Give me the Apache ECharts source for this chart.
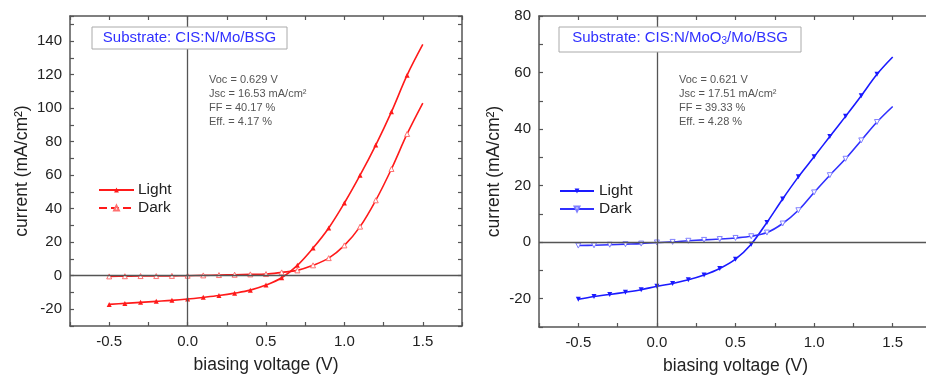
<!DOCTYPE html>
<html><head><meta charset="utf-8">
<script src="https://cdn.jsdelivr.net/npm/echarts@6/dist/echarts.min.js"></script>
<style>html,body{margin:0;padding:0;background:#fff}#c{width:926px;height:375px}</style>
</head><body><div id="c"></div>
<script>
const voltage = [-0.5,-0.4,-0.3,-0.2,-0.1,0.0,0.1,0.2,0.3,0.4,0.5,0.6,0.7,0.8,0.9,1.0,1.1,1.2,1.3,1.4,1.5];
// Left panel: Substrate CIS:N/Mo/BSG
const lightMo = [-17.1,-16.5,-15.9,-15.3,-14.7,-13.9,-12.9,-11.8,-10.4,-8.6,-5.6,-1.2,6.2,16.5,28.5,43.4,60,78,97.8,119.7,138];
const darkMo  = [-0.4,-0.3,-0.2,-0.2,-0.1,0.0,0.2,0.4,0.6,0.8,1.0,2.0,3.2,6.2,10.5,18.1,29.3,45,63.7,84.6,103];
// Right panel: Substrate CIS:N/MoO3/Mo/BSG
const lightMoO3 = [-20.2,-19.2,-18.5,-17.7,-16.8,-15.6,-14.6,-13.3,-11.6,-9.3,-6.0,-0.7,7.0,15.3,23.1,30.2,37.4,44.5,51.8,59.4,65.5];
const darkMoO3  = [-1.2,-1.1,-0.9,-0.7,-0.5,-0.1,0.1,0.5,0.8,1.1,1.5,2.1,3.4,6.6,11.3,17.6,23.7,29.5,36,42.5,48];
const statsMo = ['Voc = 0.629 V','Jsc = 16.53 mA/cm\u00b2','FF = 40.17 %','Eff. = 4.17 %'];
const statsMoO3 = ['Voc = 0.621 V','Jsc = 17.51 mA/cm\u00b2','FF = 39.33 %','Eff. = 4.28 %'];

const FONT = 'Liberation Sans, Arial, sans-serif';
const FRAME = '#555';
const RED = '#ff1a1a', BLUE = '#1a1aff';

function pts(arr){
  return voltage.map((v,i)=> i===voltage.length-1 ? {value:[v,arr[i]], symbol:'none'} : [v,arr[i]]);
}
function xAx(g, pos, labels){
  return {type:'value', gridIndex:g, position:pos, min:-0.75, max:1.75, interval:0.25,
    axisLine:{show:true, onZero:false, lineStyle:{color:FRAME, width:1.5}},
    axisTick:{show:true, inside:true, length:4, lineStyle:{color:FRAME, width:1.2}},
    splitLine:{show:false},
    axisLabel:{show:labels, color:'#222', fontSize:15, fontFamily:FONT, margin:8,
      formatter:v=> Math.abs(v*2-Math.round(v*2))<1e-6 ? v.toFixed(1) : ''},
    name: labels ? 'biasing voltage (V)' : '', nameLocation:'middle', nameGap:30,
    nameTextStyle:{color:'#222', fontSize:17.5, fontFamily:FONT}};
}
function yAx(g, pos, labels, max, gap){
  return {type:'value', gridIndex:g, position:pos, min:-30, max:max, interval:10,
    axisLine:{show:true, onZero:false, lineStyle:{color:FRAME, width:1.5}},
    axisTick:{show:true, inside:true, length:4, lineStyle:{color:FRAME, width:1.2}},
    splitLine:{show:false},
    axisLabel:{show:labels, color:'#222', fontSize:15, fontFamily:FONT, margin:8, showMaxLabel:true,
      formatter:v=> (Math.round(v)%20===0) ? String(Math.round(v)) : ''},
    name: labels ? 'current (mA/cm\u00b2)' : '', nameLocation:'middle', nameGap:gap, nameRotate:90,
    nameTextStyle:{color:'#222', fontSize:17.5, fontFamily:FONT}};
}
const cross = {silent:true, symbol:'none', animation:false, label:{show:false},
  lineStyle:{color:FRAME, width:1.3, type:'solid'}, data:[{xAxis:0},{yAxis:0}]};

const chart = echarts.init(document.getElementById('c'), null, {renderer:'canvas'});
chart.setOption({
  animation:false,
  backgroundColor:'#fff',
  grid:[
    {left:70, top:16, width:392, height:310, containLabel:false, outerBoundsMode:'none'},
    {left:539, top:16, width:393, height:311, containLabel:false, outerBoundsMode:'none'}
  ],
  xAxis:[xAx(0,'bottom',true), xAx(0,'top',false), xAx(1,'bottom',true), xAx(1,'top',false)],
  yAxis:[yAx(0,'left',true,155,39), yAx(0,'right',false,155,39), yAx(1,'left',true,80,36), yAx(1,'right',false,80,36)],
  legend:[
    {left:98, top:182, padding:0, orient:'vertical', itemWidth:35, itemHeight:6, itemGap:2,
     textStyle:{fontSize:15.5, color:'#222', fontFamily:FONT, padding:[0,0,0,-1]},
     data:[{name:'Light'},{name:'Dark', lineStyle:{type:'dashed'}}]},
    {left:559, top:183, padding:0, orient:'vertical', itemWidth:34, itemHeight:6, itemGap:2,
     textStyle:{fontSize:15.5, color:'#222', fontFamily:FONT},
     formatter:n=>n.replace('2',''),
     data:[{name:'Light2'},{name:'Dark2'}]}
  ],
  series:[
    {name:'Light', type:'line', xAxisIndex:0, yAxisIndex:0, data:pts(lightMo), smooth:0.35,
     symbol:'triangle', symbolSize:5, lineStyle:{color:RED, width:1.6}, itemStyle:{color:RED}, markLine:cross, z:3},
    {name:'Dark', type:'line', xAxisIndex:0, yAxisIndex:0, data:pts(darkMo), smooth:0.35,
     symbol:'triangle', symbolSize:5, lineStyle:{color:RED, width:1.6}, itemStyle:{color:'#fff', borderColor:'#ff7070', borderWidth:1}, z:3},
    {name:'Light2', type:'line', xAxisIndex:2, yAxisIndex:2, data:pts(lightMoO3), smooth:0.35,
     symbol:'triangle', symbolRotate:180, symbolSize:5, lineStyle:{color:BLUE, width:1.6}, itemStyle:{color:BLUE}, markLine:cross, z:3},
    {name:'Dark2', type:'line', xAxisIndex:2, yAxisIndex:2, data:pts(darkMoO3), smooth:0.35,
     symbol:'triangle', symbolRotate:180, symbolSize:5, lineStyle:{color:'#3030ff', width:1.6}, itemStyle:{color:'#fff', borderColor:'#8080ff', borderWidth:1}, z:3}
  ],
  graphic:[
    {type:'rect', shape:{x:92, y:27, width:195, height:22}, style:{fill:'#fff', stroke:'#aaa', lineWidth:1}, z:10},
    {type:'text', x:189.5, y:38, z:11, style:{text:'Substrate: CIS:N/Mo/BSG', fill:'#3030ff', font:'15px '+FONT, align:'center', verticalAlign:'middle'}},
    {type:'rect', shape:{x:559, y:27, width:242, height:25}, style:{fill:'#fff', stroke:'#aaa', lineWidth:1}, z:10},
    {type:'text', x:680, y:38, z:11, style:{text:'{a|Substrate: CIS:N/MoO}{s|3}{a|/Mo/BSG}', align:'center', verticalAlign:'middle',
      rich:{a:{fill:'#3030ff', fontSize:15, fontFamily:FONT, lineHeight:16}, s:{fill:'#3030ff', fontSize:10, fontFamily:FONT, lineHeight:4, verticalAlign:'bottom'}}}},
    {type:'text', x:209, y:73, z:11, style:{text:statsMo.join('\n'), fill:'#555', font:'11px '+FONT, lineHeight:14}},
    {type:'text', x:679, y:73, z:11, style:{text:statsMoO3.join('\n'), fill:'#555', font:'11px '+FONT, lineHeight:14}}
  ]
});
</script></body></html>
